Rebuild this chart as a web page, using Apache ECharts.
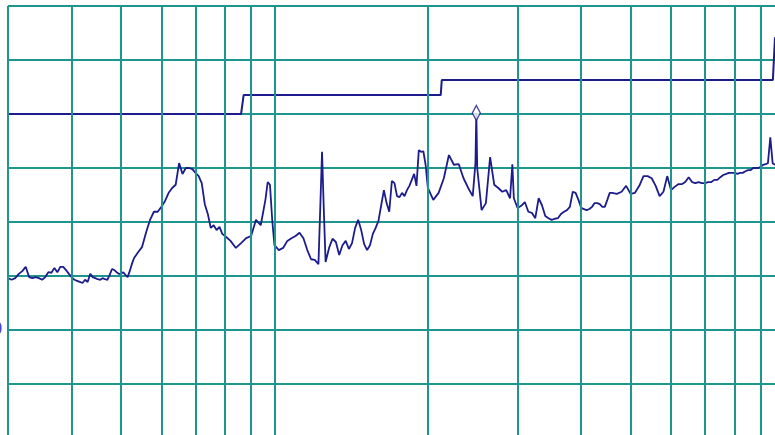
<!DOCTYPE html>
<html>
<head>
<meta charset="utf-8">
<script src="https://cdn.jsdelivr.net/npm/echarts@6/dist/echarts.min.js"></script>
<style>
html,body{margin:0;padding:0;background:#fff;}
#chart{width:775px;height:435px;}
</style>
</head>
<body>
<div id="chart"></div>
<script>
// Measured trace: frequency (log axis) and level (dB), split into bands
const freqBand1 = [3.0,3.05,3.1,3.15,3.2,3.25,3.3,3.35,3.4,3.45,
                   3.5,3.55,3.6,3.65,3.7,3.75,3.8,3.85,3.9,3.95,
                   4.0,4.05,4.1,4.15,4.2,4.25,4.3,4.35,4.4,4.45,
                   4.5,4.55,4.6,4.65,4.7,4.75,4.8,4.85,4.9,4.95,
                   5.0,5.05,5.1,5.15,5.2,5.25,5.3];
const levelBand1 = [-50.4,-50.7,-50.4,-49.6,-49.1,-48.3,-50.2,-50.4,-50.2,-50.4,
                    -50.7,-50.2,-49.3,-49.4,-48.5,-49.3,-48.3,-48.3,-48.9,-49.6,
                    -50.2,-50.7,-50.9,-51.1,-51.3,-50.7,-51.1,-49.6,-50.2,-50.4,
                    -50.6,-50.7,-50.4,-50.6,-50.7,-49.8,-48.7,-48.9,-49.3,-49.6,
                    -49.6,-49.3,-49.8,-50.2,-49.1,-47.8,-46.7];

const freqBand2 = [5.4,5.5,5.6,5.7,5.8,5.9,6.0,6.1,6.2,6.3,
                   6.4,6.5,6.6,6.7,6.8,6.9,7.0,7.1,7.2,7.3,
                   7.4,7.5,7.6,7.7,7.8,7.9,8.0,8.2,8.4,8.6,
                   8.8,9.0,9.2,9.4,9.6,9.7,9.8,9.9];
const levelBand2 = [-45.6,-44.6,-41.9,-39.6,-38.1,-38.1,-37.2,-36.1,-34.6,-33.7,
                    -33.1,-29.1,-31.1,-30.0,-30.0,-30.2,-30.9,-31.5,-32.8,-36.7,
                    -38.5,-41.1,-40.6,-41.5,-40.9,-42.2,-42.6,-43.5,-44.8,-43.9,
                    -43.0,-42.6,-39.6,-40.6,-35.9,-32.6,-33.1,-39.6];

const freqBand3 = [10.0,10.2,10.4,10.6,10.8,11.0,11.2,11.4,11.6,11.8,
                   12.0,12.2,12.3,12.4,12.5,12.6,12.8,13.0,13.2,13.4,
                   13.6,13.8,14.0,14.2,14.4,14.6,14.8,15.0,15.2,15.4,
                   15.6,15.8,16.0,16.2,16.4,16.6,16.8,17.0,17.2,17.4,
                   17.6,17.8,18.0,18.2,18.4,18.6,18.8,19.0,19.2,19.4,
                   19.6,19.8];
const levelBand3 = [-44.3,-45.2,-44.8,-43.5,-43.0,-42.6,-42.0,-43.0,-45.2,-46.9,
                    -47.0,-47.8,-37.4,-27.0,-37.8,-47.4,-44.8,-43.1,-43.7,-46.1,
                    -44.3,-43.5,-45.0,-43.9,-41.1,-39.6,-41.5,-44.1,-45.2,-44.3,
                    -42.2,-41.1,-39.8,-36.9,-34.1,-36.5,-38.1,-32.4,-32.8,-35.2,
                    -35.4,-34.6,-35.2,-34.1,-33.3,-32.2,-31.1,-33.3,-26.7,-27.0,
                    -26.9,-29.4];

const freqBand4 = [20.0,20.5,21.0,21.5,22.0,22.5,23.0,23.5,24.0,24.5,
                   24.8,24.9,25.0,25.5,26.0,26.5,27.0,27.5,28.0,28.5,
                   29.0,29.3,29.5,30.0,30.5,31.0,31.5,32.0,32.5,33.0,
                   33.5,34.0,34.5,35.0,35.5,36.0,36.5,37.0,37.5,38.0,
                   38.5,39.0,39.5];
const levelBand4 = [-33.7,-35.9,-34.6,-31.9,-27.6,-29.4,-29.3,-31.9,-33.7,-35.2,
                    -29.1,-19.8,-30.0,-37.8,-36.5,-28.0,-33.1,-33.7,-34.4,-34.1,
                    -35.6,-29.3,-35.6,-37.4,-37.0,-36.3,-38.1,-38.3,-39.3,-35.6,
                    -36.9,-38.9,-39.3,-39.6,-39.4,-39.3,-38.5,-38.1,-37.8,-37.2,
                    -34.4,-34.6,-35.9];

const freqBand5 = [40,40.5,41,41.5,42,42.5,43,43.5,44,44.5,
                   45,45.5,46,47,48,49,50,51,52,53,
                   54,55,56,57,58,59,60,61,62,63,
                   64,65,66,67,68,69,70,71,72,73,
                   74,75,76,77,78,79,80,81,82,83,
                   84,85,86,87,88,89,90,91,92,93,
                   94,95,96,97];
const levelBand5 = [-37.4,-37.6,-37.8,-37.6,-37.2,-36.5,-36.5,-36.7,-37.2,-37.2,
                    -35.9,-34.6,-34.6,-34.8,-34.4,-33.3,-34.8,-34.6,-33.3,-31.5,
                    -31.5,-31.9,-33.3,-35.2,-34.4,-31.5,-34.1,-33.5,-33.0,-33.0,
                    -32.6,-31.7,-32.6,-32.8,-32.6,-32.8,-32.8,-32.6,-32.6,-32.2,
                    -32.2,-31.7,-31.3,-31.1,-30.9,-30.9,-30.9,-31.1,-30.9,-30.9,
                    -30.6,-30.4,-30.4,-30.0,-30.0,-30.0,-29.8,-29.4,-29.3,-29.1,
                    -24.3,-29.1,-29.4,-29.3];

// Limit (stepped) line
const stepFreq  = [3, 8.6, 8.7, 21.2, 21.3, 95.1, 96, 100];
const stepLevel = [-20, -20, -16.5, -16.5, -13.7, -13.7, -5.9, -5.9];
// Marked peak
const peakFreq  = [24.9];
const peakLevel = [-19.8];
// Grid frequencies (log decades) and level range
const gridFreqs = [3,4,5,6,7,8,9,10,20,30,40,50,60,70,80,90,100];
const levelMin = -80, levelMax = 0, levelStep = 10;
const labelLevel = -60;

const GRID = '#1f958f';
const NAVY = '#1c1c8c';

const pairs = (xs, ys) => xs.map((x, i) => [x, ys[i]]);
const freq  = [].concat(freqBand1, freqBand2, freqBand3, freqBand4, freqBand5);
const level = [].concat(levelBand1, levelBand2, levelBand3, levelBand4, levelBand5);

const chart = echarts.init(document.getElementById('chart'), null, {renderer: 'canvas'});
chart.setOption({
  animation: false,
  backgroundColor: '#ffffff',
  grid: {left: 8, right: -9, top: 6, bottom: -3, containLabel: false, outerBoundsMode: 'none'},
  xAxis: {
    type: 'log', logBase: 10, min: 3, max: 100,
    axisLine: {show: false}, axisTick: {show: false},
    axisLabel: {show: false}, splitLine: {show: false}
  },
  yAxis: {
    type: 'value', min: levelMin, max: levelMax, interval: levelStep,
    axisLine: {show: false}, axisTick: {show: false},
    axisLabel: {
      show: true, margin: 5, color: '#4646cc', fontSize: 20,
      fontFamily: 'DejaVu Sans',
      formatter: v => (v === labelLevel ? String(v) : '')
    },
    splitLine: {show: true, lineStyle: {color: GRID, width: 2}}
  },
  series: [
    {
      type: 'line', data: [], z: 1, silent: true,
      markLine: {
        silent: true, symbol: ['none', 'none'], animation: false,
        label: {show: false},
        lineStyle: {color: GRID, width: 2, type: 'solid'},
        data: gridFreqs.map(f => ({xAxis: f}))
      }
    },
    {
      type: 'line', data: pairs(stepFreq, stepLevel), z: 3,
      showSymbol: false, lineStyle: {color: NAVY, width: 2}
    },
    {
      type: 'line', data: pairs(freq, level), z: 3,
      showSymbol: false, lineStyle: {color: NAVY, width: 1.8}
    },
    {
      type: 'scatter', data: pairs(peakFreq, peakLevel), z: 4,
      symbol: 'diamond', symbolSize: [8, 15],
      itemStyle: {color: '#ffffff', borderColor: NAVY, borderWidth: 1.5}
    }
  ]
});
</script>
</body>
</html>
